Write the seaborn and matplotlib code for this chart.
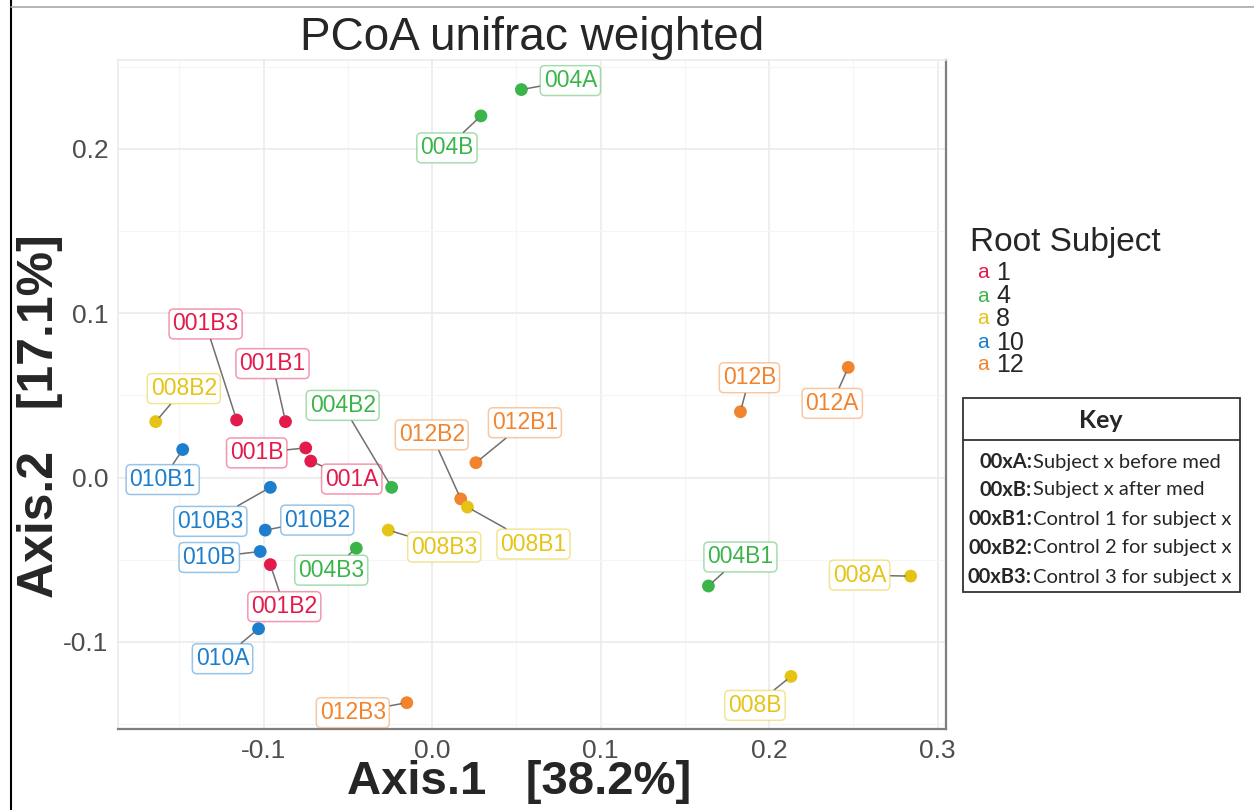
import matplotlib
matplotlib.use("Agg")
import matplotlib.pyplot as plt
import seaborn as sns
import pandas as pd
from matplotlib.lines import Line2D
from matplotlib.patches import Rectangle
from matplotlib.colors import to_rgba
from matplotlib.ticker import MultipleLocator

# sample names, subject and coordinates on the first two PCoA axes
samples = ["004A", "004B", "001B3", "001B1", "008B2", "010B1", "001B", "001A",
           "004B2", "010B3", "010B2", "010B", "001B2", "004B3", "008B3", "010A",
           "012B3", "012B2", "008B1", "012B1", "012B", "012A", "004B1", "008A", "008B"]
subjects = [4, 4, 1, 1, 8, 10, 1, 1,
            4, 10, 10, 10, 1, 4, 8, 10,
            12, 12, 8, 12, 12, 12, 4, 8, 8]
axis1 = [0.053, 0.029, -0.116, -0.087, -0.164, -0.148, -0.075, -0.072,
         -0.024, -0.096, -0.099, -0.102, -0.096, -0.045, -0.026, -0.103,
         -0.015, 0.017, 0.021, 0.026, 0.183, 0.247, 0.164, 0.284, 0.213]
axis2 = [0.236, 0.220, 0.035, 0.034, 0.034, 0.017, 0.018, 0.010,
         -0.006, -0.006, -0.032, -0.045, -0.053, -0.043, -0.032, -0.092,
         -0.137, -0.013, -0.018, 0.009, 0.040, 0.067, -0.066, -0.060, -0.121]

subject_levels = [1, 4, 8, 10, 12]
subject_colors = ["#E41A4B", "#3BB54A", "#E6C416", "#1C7ECC", "#F2842E"]

key_codes = ["00xA:", "00xB:", "00xB1:", "00xB2:", "00xB3:"]
key_texts = ["Subject x before med", "Subject x after med", "Control 1 for subject x",
             "Control 2 for subject x", "Control 3 for subject x"]

# where ggrepel put the labels (pixel offsets from the point)
label_offsets = {
    "004A": (49, 9), "004B": (-34, -32), "001B3": (-31, 96), "001B1": (-13, 58),
    "008B2": (28, 33), "010B1": (-20, -30), "001B": (-49, -5), "001A": (41, -18),
    "004B2": (-49, 82), "010B3": (-60, -34), "010B2": (52, 10), "010B": (-51, -6),
    "001B2": (14, -42), "004B3": (-25, -22), "008B3": (56, -17), "010A": (-36, -30),
    "012B3": (-54, -10), "012B2": (-29, 64), "008B1": (66, -37), "012B1": (49, 40),
    "012B": (9, 34), "012A": (-16, -36), "004B1": (32, 29), "008A": (-51, 1),
    "008B": (-36, -29),
}

df = pd.DataFrame({"Sample": samples, "Subject": subjects,
                   "Axis.1": axis1, "Axis.2": axis2})
palette = dict(zip(subject_levels, subject_colors))

sns.set_style("white")
plt.rcParams['font.family'] = ['Liberation Sans', 'DejaVu Sans']

W, H = 1254, 810
fig = plt.figure(figsize=(W / 100, H / 100), dpi=100)
ax = fig.add_axes([118 / W, 1 - 729 / H, (946 - 118) / W, (729 - 60) / H])


def fx(x):
    return x / W


def fy(y):
    return 1 - y / H


sns.scatterplot(data=df, x="Axis.1", y="Axis.2", hue="Subject", palette=palette,
                s=85, edgecolor="none", legend=False, ax=ax, zorder=3)

for _, row in df.iterrows():
    c = palette[row["Subject"]]
    dx, dy = label_offsets[row["Sample"]]
    ax.annotate(row["Sample"], xy=(row["Axis.1"], row["Axis.2"]), xytext=(dx, dy),
                textcoords="offset pixels", ha="center", va="center",
                fontsize=16.5, color=c, zorder=4,
                bbox=dict(boxstyle="round,pad=0.15,rounding_size=0.2", fc="white",
                          ec=to_rgba(c, 0.45), lw=1.1),
                arrowprops=dict(arrowstyle="-", color="#707070", lw=1.1,
                                shrinkA=0, shrinkB=4))

ax.set_xlim(-0.1864, 0.305)
ax.set_ylim(-0.153, 0.254)
ax.xaxis.set_minor_locator(MultipleLocator(0.05))
ax.yaxis.set_minor_locator(MultipleLocator(0.05))
ax.set_xticks([-0.1, 0.0, 0.1, 0.2, 0.3])
ax.set_xticklabels(["-0.1", "0.0", "0.1", "0.2", "0.3"])
ax.set_yticks([-0.1, 0.0, 0.1, 0.2])
ax.set_yticklabels(["-0.1", "0.0", "0.1", "0.2"])
ax.grid(True, which="major", color="#EBEBEB", lw=1.2, zorder=0)
ax.grid(True, which="minor", color="#F5F5F5", lw=0.8, zorder=0)
ax.set_axisbelow(True)
ax.tick_params(axis="both", which="major", labelsize=19, labelcolor="#4D4D4D",
               color="#4D4D4D", length=4, width=1, pad=3)
ax.tick_params(axis="both", which="minor", length=0)

for side in ["left", "top"]:
    ax.spines[side].set_color("#EBEBEB")
    ax.spines[side].set_linewidth(1.2)
for side in ["bottom", "right"]:
    ax.spines[side].set_color("#7F7F7F")
    ax.spines[side].set_linewidth(1.6)

ax.set_xlabel("Axis.1   [38.2%]", fontsize=34, fontweight="bold")
ax.set_ylabel("Axis.2   [17.1%]", fontsize=36, fontweight="bold")
ax.xaxis.set_label_coords(0.485, -0.046)
ax.yaxis.set_label_coords(-0.066, 0.468)
ax.set_title("PCoA unifrac weighted", fontsize=33, pad=7)

# legend made of coloured "a" keys as ggplot draws for text layers
fig.text(fx(970), fy(243), "Root Subject", fontsize=24, va="center", ha="left")
entry_y = [273, 296, 319, 343, 365]
for yy, lev, col in zip(entry_y, subject_levels, subject_colors):
    fig.text(fx(977), fy(yy), "a", color=col, fontsize=15, va="center", ha="left")
    fig.text(fx(996), fy(yy), str(lev), fontsize=18, va="center", ha="left")

# key table
fig.add_artist(Rectangle((fx(963), fy(592)), fx(1240) - fx(963), fy(398) - fy(592),
                         transform=fig.transFigure, fill=False, ec="#333333", lw=1.3))
fig.add_artist(Line2D([fx(963), fx(1240)], [fy(440), fy(440)],
                      transform=fig.transFigure, color="#333333", lw=1.3))
fig.text(fx(1101), fy(420), "Key", fontsize=18, fontweight="bold",
         ha="center", va="center", family=["Lato", "DejaVu Sans"])
row_y = [462, 490, 519, 548, 577]
for yy, code, txt in zip(row_y, key_codes, key_texts):
    fig.text(fx(1032), fy(yy), code, fontsize=14.5, fontweight="bold",
             ha="right", va="center", family=["Lato", "DejaVu Sans"])
    fig.text(fx(1033), fy(yy), txt, fontsize=14.5,
             ha="left", va="center", family=["Lato", "DejaVu Sans"])

# outer frame of the original screenshot
fig.add_artist(Line2D([fx(11), fx(11)], [0, 1], transform=fig.transFigure,
                      color="black", lw=1.5))
fig.add_artist(Line2D([fx(11), 1], [fy(7), fy(7)], transform=fig.transFigure,
                      color="#A8A8A8", lw=1.2))

fig.savefig("out.png", dpi=100)
